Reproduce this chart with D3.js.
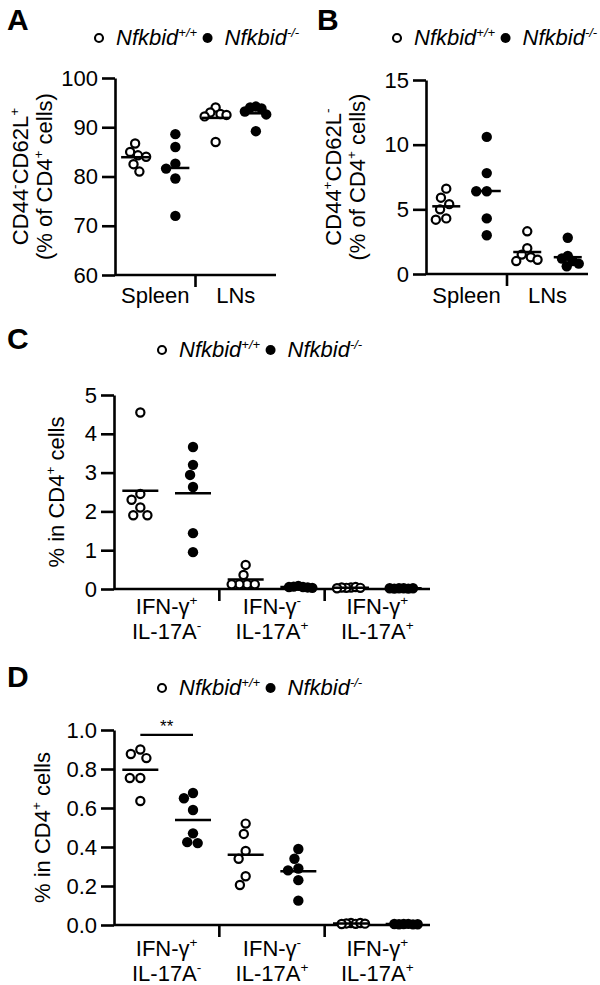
<!DOCTYPE html>
<html>
<head>
<meta charset="utf-8">
<script src="https://cdn.jsdelivr.net/npm/d3@7"></script>
<style>
  body { margin: 0; background: #fff; }
  svg { display: block; }
</style>
</head>
<body>
<script>
// values
var genoSup = ["+/+", "-/-"];

var aCats = ["Spleen", "LNs"];
var aTicks = [60, 70, 80, 90, 100];
var aWT = [[86.7, 85.0, 84.3, 84.0, 82.5, 81.0], [94.0, 93.0, 92.7, 92.5, 92.2, 87.0]];
var aKO = [[88.6, 86.0, 82.6, 81.6, 79.6, 72.0], [94.2, 94.0, 93.8, 93.2, 92.6, 89.2]];

var bCats = ["Spleen", "LNs"];
var bTicks = [0, 5, 10, 15];
var bWT = [[6.6, 5.9, 5.4, 5.0, 4.3, 4.2], [3.3, 2.0, 1.5, 1.3, 1.1, 1.0]];
var bKO = [[10.6, 7.8, 6.4, 6.4, 4.3, 3.0], [2.8, 1.4, 1.2, 1.0, 0.8, 0.6]];

// two-line category labels: [text, superscript]
var cdCats = [
    [["IFN-γ", "+"], ["IL-17A", "-"]],
    [["IFN-γ", "-"], ["IL-17A", "+"]],
    [["IFN-γ", "+"], ["IL-17A", "+"]]
];

var cTicks = [0, 1, 2, 3, 4, 5];
var cWT = [[4.55, 2.45, 2.3, 2.1, 1.9, 1.9], [0.62, 0.36, 0.12, 0.12, 0.12, 0.12], [0.04, 0.03, 0.05, 0.03, 0.04, 0.02]];
var cKO = [[3.66, 3.2, 2.94, 2.63, 1.44, 0.95], [0.08, 0.06, 0.05, 0.04, 0.05, 0.03], [0.02, 0.02, 0.01, 0.02, 0.01, 0.02]];

var dTicks = [0, 0.2, 0.4, 0.6, 0.8, 1.0];
var dWT = [[0.90, 0.877, 0.856, 0.754, 0.754, 0.636], [0.52, 0.467, 0.38, 0.34, 0.25, 0.205], [0.01, 0.008, 0.006, 0.01, 0.005, 0.007]];
var dKO = [[0.677, 0.65, 0.59, 0.47, 0.425, 0.42], [0.39, 0.34, 0.29, 0.28, 0.23, 0.125], [0.005, 0.004, 0.006, 0.003, 0.005, 0.004]];
var dSig = [{ group: 0, value: 0.975, label: "**" }];

var FONT = "Arial, 'Liberation Sans', Helvetica, sans-serif";
var width = 600, height = 985;
var fs = 22;

var svg = d3.select("body").append("svg")
    .attr("width", width)
    .attr("height", height)
    .style("font-family", FONT);

svg.append("rect").attr("width", width).attr("height", height).attr("fill", "#fff");

// text with superscripts, parts = [[str, isSup], ...]
function richText(t, parts, size) {
    var shift = size * 0.42;
    var up = false;
    parts.forEach(function (p) {
        var ts = t.append("tspan").text(p[0]);
        if (p[1]) {
            ts.attr("font-size", size * 0.62).attr("dy", up ? 0 : -shift);
            up = true;
        } else {
            ts.attr("dy", up ? shift : 0);
            up = false;
        }
    });
}

function legend(x, y) {
    var g = svg.append("g");
    var cx = x;
    genoSup.forEach(function (sup, i) {
        g.append("circle")
            .attr("cx", cx).attr("cy", y - 7)
            .attr("r", i == 0 ? 4 : 5)
            .attr("fill", i == 0 ? "#fff" : "#000")
            .attr("stroke", "#000")
            .attr("stroke-width", i == 0 ? 2.1 : 0);
        var t = g.append("text")
            .attr("x", cx + 17).attr("y", y)
            .attr("font-size", fs)
            .attr("font-style", "italic");
        t.append("tspan").text("Nfkbid");
        t.append("tspan").text(sup)
            .attr("font-size", 13)
            .attr("dy", -8);
        var w = t.node().getBBox().width;
        cx = cx + 17 + w + 10;
    });
}

function swarm(vals, y, D, maxHalf) {
    var placed = [];
    vals.forEach(function (v) {
        var py = y(v);
        var cands = [0];
        placed.forEach(function (p) {
            var dy = Math.abs(p.y - py);
            if (dy < D) {
                var dx = Math.sqrt(D * D - dy * dy);
                cands.push(p.x + dx, p.x - dx);
            }
        });
        cands.sort(function (a, b) { return Math.abs(a) - Math.abs(b) || a - b; });
        var ok = cands.find(function (c) {
            return placed.every(function (p) {
                return (p.x - c) * (p.x - c) + (p.y - py) * (p.y - py) >= D * D - 0.01;
            });
        });
        placed.push({ v: v, x: ok, y: py });
    });
    var ext = d3.max(placed, function (p) { return Math.abs(p.x); });
    if (ext > maxHalf) {
        placed.forEach(function (p) { p.x = p.x * maxHalf / ext; });
    }
    return placed;
}

function makePanel(c) {
    var g = svg.append("g");

    g.append("text")
        .attr("x", c.letter[1]).attr("y", c.letter[2])
        .attr("font-size", 30).attr("font-weight", "bold")
        .text(c.letter[0]);

    legend(c.legend[0], c.legend[1]);

    var nGroups = c.wt.length * 2;
    var x = d3.scalePoint()
        .domain(d3.range(nGroups))
        .range([c.x0, c.x1])
        .padding(0.5);
    var y = d3.scaleLinear()
        .domain([c.ticks[0], c.ticks[c.ticks.length - 1]])
        .range([c.yBottom, c.yTop]);

    var yAxis = d3.axisLeft(y)
        .tickValues(c.ticks)
        .tickSize(13)
        .tickSizeOuter(0)
        .tickPadding(4)
        .tickFormat(c.fmt);

    var ya = g.append("g")
        .attr("transform", "translate(" + c.x0 + ",0)")
        .call(yAxis);
    ya.selectAll("path, line").attr("stroke", "#000").attr("stroke-width", 2.6);
    ya.selectAll("text").attr("font-size", fs).attr("fill", "#000").attr("font-family", FONT);

    // x baseline
    g.append("line")
        .attr("x1", c.x0).attr("x2", c.x1)
        .attr("y1", y(c.ticks[0])).attr("y2", y(c.ticks[0]))
        .attr("stroke", "#000").attr("stroke-width", 2.6);

    // separators between category pairs
    for (var i = 1; i < c.wt.length; i++) {
        var sx = (x(2 * i - 1) + x(2 * i)) / 2;
        g.append("line")
            .attr("x1", sx).attr("x2", sx)
            .attr("y1", y(c.ticks[0])).attr("y2", y(c.ticks[0]) + 12)
            .attr("stroke", "#000").attr("stroke-width", 2.6);
    }

    // category labels
    c.cats.forEach(function (cat, i) {
        var cx = (x(2 * i) + x(2 * i + 1)) / 2;
        var lines = typeof cat === "string" ? [[[cat, ""]]] : cat.map(function (l) { return [[l[0], false], [l[1], true]]; });
        lines.forEach(function (parts, j) {
            var t = g.append("text")
                .attr("x", cx)
                .attr("y", c.labelY[j])
                .attr("text-anchor", "middle")
                .attr("font-size", fs);
            richText(t, parts, fs);
        });
    });

    // y titles
    c.title.forEach(function (parts, j) {
        var t = g.append("text")
            .attr("transform", "translate(" + c.titleX[j] + "," + ((c.yTop + c.yBottom) / 2) + ") rotate(-90)")
            .attr("text-anchor", "middle")
            .attr("font-size", fs);
        richText(t, parts, fs);
    });

    // points
    var groups = [];
    c.wt.forEach(function (vals, i) {
        groups.push({ vals: vals, pos: 2 * i, open: true });
        groups.push({ vals: c.ko[i], pos: 2 * i + 1, open: false });
    });

    groups.forEach(function (gr) {
        var pts = swarm(gr.vals, y, 10.5, c.maxHalf);
        var cx = x(gr.pos);
        g.selectAll(null)
            .data(pts)
            .enter()
            .append("circle")
            .attr("cx", function (d) { return cx + d.x; })
            .attr("cy", function (d) { return d.y; })
            .attr("r", gr.open ? 4.1 : 5.2)
            .attr("fill", gr.open ? "#fff" : "#000")
            .attr("stroke", "#000")
            .attr("stroke-width", gr.open ? 2.2 : 0);

        var m = d3.mean(gr.vals);
        g.append("line")
            .attr("x1", cx - c.meanHalf).attr("x2", cx + c.meanHalf)
            .attr("y1", y(m)).attr("y2", y(m))
            .attr("stroke", "#000").attr("stroke-width", 2.5);
    });

    if (c.sig) {
        c.sig.forEach(function (s) {
            var x1 = x(2 * s.group), x2 = x(2 * s.group + 1);
            g.append("line")
                .attr("x1", x1).attr("x2", x2)
                .attr("y1", y(s.value)).attr("y2", y(s.value))
                .attr("stroke", "#000").attr("stroke-width", 2.2);
            g.append("text")
                .attr("x", (x1 + x2) / 2).attr("y", y(s.value) - 3)
                .attr("text-anchor", "middle")
                .attr("font-size", 17)
                .text(s.label);
        });
    }
}

makePanel({
    letter: ["A", 7, 30], legend: [99, 45],
    x0: 115, x1: 276, yTop: 78, yBottom: 275,
    ticks: aTicks, fmt: d3.format("d"),
    cats: aCats, labelY: [303],
    wt: aWT, ko: aKO,
    title: [[["CD44", false], ["-", true], ["CD62L", false], ["+", true]], [["(% of CD4", false], ["+", true], [" cells)", false]]],
    titleX: [28, 52],
    meanHalf: 14, maxHalf: 11
});

makePanel({
    letter: ["B", 317, 30], legend: [397, 45],
    x0: 426, x1: 588, yTop: 80, yBottom: 274,
    ticks: bTicks, fmt: d3.format("d"),
    cats: bCats, labelY: [303],
    wt: bWT, ko: bKO,
    title: [[["CD44", false], ["+", true], ["CD62L", false], ["-", true]], [["(% of CD4", false], ["+", true], [" cells)", false]]],
    titleX: [341, 365],
    meanHalf: 14, maxHalf: 11
});

makePanel({
    letter: ["C", 7, 349], legend: [162, 357],
    x0: 114, x1: 430, yTop: 395, yBottom: 589,
    ticks: cTicks, fmt: d3.format("d"),
    cats: cdCats, labelY: [614, 639],
    wt: cWT, ko: cKO,
    title: [[["% in CD4", false], ["+", true], [" cells", false]]],
    titleX: [64],
    meanHalf: 18, maxHalf: 14
});

makePanel({
    letter: ["D", 7, 687], legend: [162, 695],
    x0: 114, x1: 430, yTop: 730, yBottom: 925,
    ticks: dTicks, fmt: d3.format(".1f"),
    cats: cdCats, labelY: [956, 981],
    wt: dWT, ko: dKO,
    title: [[["% in CD4", false], ["+", true], [" cells", false]]],
    titleX: [50],
    meanHalf: 18, maxHalf: 14,
    sig: dSig
});
</script>
</body>
</html>
